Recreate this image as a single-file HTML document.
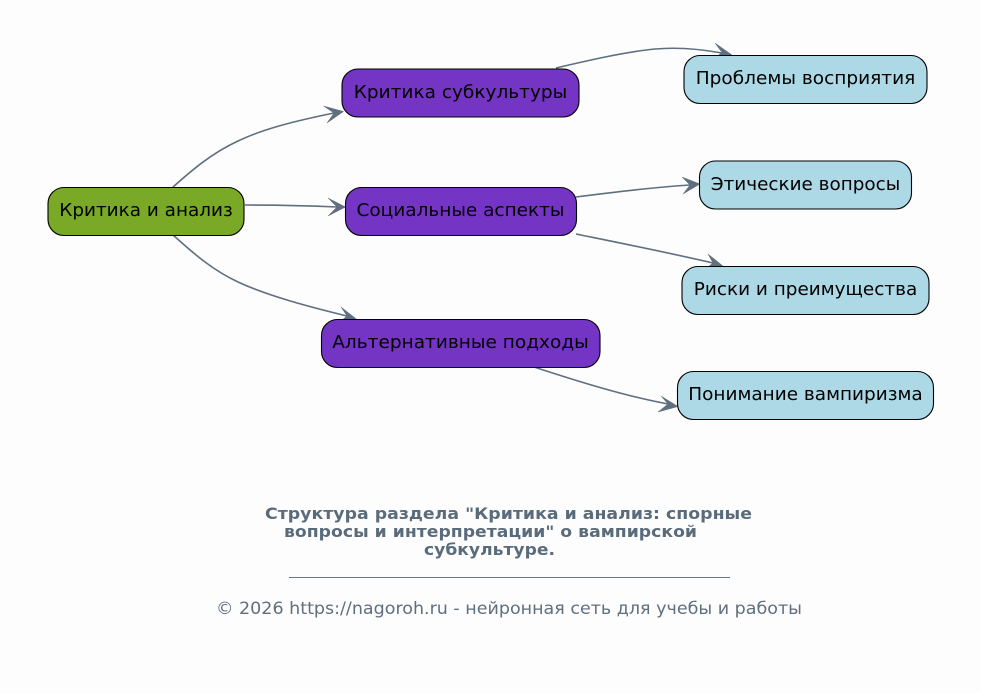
<!DOCTYPE html>
<html>
<head>
<meta charset="utf-8">
<style>
html,body{margin:0;padding:0;background:#fdfdfd;width:981px;height:693px;overflow:hidden}
svg{display:block}
text{font-family:"DejaVu Sans",sans-serif}
.n{font-size:18px;fill:#000;text-anchor:middle}
.e{fill:none;stroke:#5f6f7f;stroke-width:1.6}
.a{fill:#5f6f7f;stroke:#5f6f7f;stroke-width:.5}
.b{stroke:#000;stroke-width:1.1}
.t{font-size:16px;font-weight:bold;fill:#5a6b7b;text-anchor:middle}
.c{font-size:16.500px;fill:#5f6f7f;text-anchor:middle}
</style>
</head>
<body>
<svg width="981" height="693" viewBox="0 0 981 693" xmlns="http://www.w3.org/2000/svg">
<rect width="981" height="693" fill="#fdfdfd"/>

<path class="e" d="M173 187C190 172 210 154 238 141C265 128 300 120 334 113"/>
<path class="a" d="M343.500 111.500L323.500 106L334 113L327 123Z"/>
<path class="e" d="M245 205C275 205 305 205.500 337 207"/>
<path class="a" d="M345.500 207L328 198L337 207L328 216Z"/>
<path class="e" d="M173 235C190 250 210 269 238 282C268 296 310 307 347 316"/>
<path class="a" d="M357 319.500L341 307L347 316L337 324Z"/>
<path class="e" d="M556 68C590 60 625 52 655 49C678 47 700 49 722 53"/>
<path class="a" d="M732 55L715 43L722 52.500L712 60Z"/>
<path class="e" d="M576 197C615 192 655 187 690 185"/>
<path class="a" d="M700 184L682 177L690 185L683 194Z"/>
<path class="e" d="M576 234C625 244 670 253 713 263"/>
<path class="a" d="M723 266L708 254L713 263L704 270Z"/>
<path class="e" d="M534 367C580 382 625 396 668 404"/>
<path class="a" d="M678 406.500L661 396L668 404L658 412Z"/>

<rect class="b" x="48" y="187.500" width="196" height="48" rx="16" fill="#7aa827"/>
<text class="n" x="146" y="216" textLength="173.500" lengthAdjust="spacingAndGlyphs">Критика и анализ</text>

<rect class="b" x="342" y="69" width="237" height="48" rx="16" fill="#7434c4"/>
<text class="n" x="460.500" y="98" textLength="213.500" lengthAdjust="spacingAndGlyphs">Критика субкультуры</text>
<rect class="b" x="345.500" y="187.500" width="231" height="48" rx="16" fill="#7434c4"/>
<text class="n" x="460.500" y="216" textLength="208" lengthAdjust="spacingAndGlyphs">Социальные аспекты</text>
<rect class="b" x="321.500" y="319.500" width="278.500" height="48" rx="16" fill="#7434c4"/>
<text class="n" x="460.500" y="348" textLength="256.500" lengthAdjust="spacingAndGlyphs">Альтернативные подходы</text>

<rect class="b" x="684" y="55.500" width="243" height="48" rx="16" fill="#add8e6"/>
<text class="n" x="805.500" y="84" textLength="219.500" lengthAdjust="spacingAndGlyphs">Проблемы восприятия</text>
<rect class="b" x="699.500" y="161" width="212" height="48" rx="16" fill="#add8e6"/>
<text class="n" x="805.500" y="190" textLength="189.500" lengthAdjust="spacingAndGlyphs">Этические вопросы</text>
<rect class="b" x="682" y="266.500" width="247" height="48" rx="16" fill="#add8e6"/>
<text class="n" x="805.500" y="295" textLength="223.500" lengthAdjust="spacingAndGlyphs">Риски и преимущества</text>
<rect class="b" x="677.500" y="371.500" width="256" height="48" rx="16" fill="#add8e6"/>
<text class="n" x="805.500" y="400" textLength="234.500" lengthAdjust="spacingAndGlyphs">Понимание вампиризма</text>

<text class="t" x="508.500" y="519" textLength="487" lengthAdjust="spacingAndGlyphs">Структура раздела "Критика и анализ: спорные</text>
<text class="t" x="490.500" y="537" textLength="413" lengthAdjust="spacingAndGlyphs">вопросы и интерпретации" о вампирской</text>
<text class="t" x="489.500" y="555" textLength="131" lengthAdjust="spacingAndGlyphs">субкультуре.</text>
<rect x="289" y="577" width="441" height="1" fill="#6a7886"/>
<text class="c" x="509" y="614" textLength="586" lengthAdjust="spacingAndGlyphs">© 2026 https://nagoroh.ru - нейронная сеть для учебы и работы</text>
</svg>
</body>
</html>
